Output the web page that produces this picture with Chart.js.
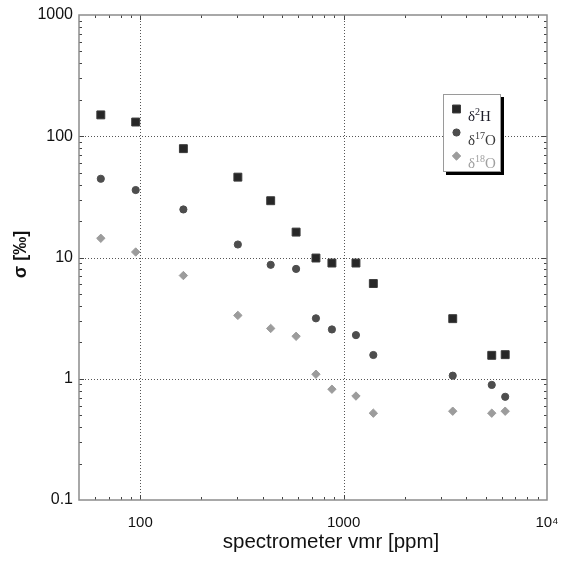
<!DOCTYPE html>
<html>
<head>
<meta charset="utf-8">
<script src="https://cdn.jsdelivr.net/npm/chart.js@4.4.1/dist/chart.umd.min.js"></script>
<style>
  html, body { margin: 0; padding: 0; background: #fff; }
</style>
</head>
<body>
<canvas id="sigmaChart" width="562" height="561"></canvas>
<script>
// spectrometer volume mixing ratio [ppm]
const vmr = [64, 95, 163, 302, 438, 584, 731, 876, 1150, 1400, 3440, 5350, 6230];
// precision sigma [permil] per isotopologue
const sigmaD2H  = [150, 131, 79, 46, 29.4, 16.2, 9.9, 9.0, 9.0, 6.1, 3.13, 1.56, 1.58];
const sigmaD17O = [44.6, 36, 24.9, 12.8, 8.7, 8.05, 3.15, 2.55, 2.29, 1.57, 1.06, 0.89, 0.71];
const sigmaD18O = [14.4, 11.1, 7.1, 3.33, 2.6, 2.24, 1.09, 0.82, 0.72, 0.52, 0.54, 0.52, 0.54];

const seriesNames = ['δ2H', 'δ17O', 'δ18O'];
// legend text split as [base, superscript, element]
const legendParts = [['δ', '2', 'H'], ['δ', '17', 'O'], ['δ', '18', 'O']];
const xTicks = [100, 1000, 10000];
const yTicks = [0.1, 1, 10, 100, 1000];

const toPoints = ys => vmr.map((v, i) => ({ x: v, y: ys[i] }));

// dotted grid, grey frame and inward minor ticks
const frame = {
  id: 'frame',
  beforeDatasetsDraw(chart) {
    const { ctx, chartArea: a, scales: { x, y } } = chart;
    ctx.save();
    ctx.strokeStyle = '#555';
    ctx.lineWidth = 1;
    ctx.setLineDash([1, 2]);
    xTicks.forEach(v => {
      const px = Math.round(x.getPixelForValue(v)) + 0.5;
      if (px <= a.left + 1 || px >= a.right - 1) return;
      ctx.beginPath(); ctx.moveTo(px, a.top); ctx.lineTo(px, a.bottom); ctx.stroke();
    });
    yTicks.forEach(v => {
      const py = Math.round(y.getPixelForValue(v)) + 0.5;
      if (py <= a.top + 1 || py >= a.bottom - 1) return;
      ctx.beginPath(); ctx.moveTo(a.left, py); ctx.lineTo(a.right, py); ctx.stroke();
    });
    ctx.setLineDash([]);

    // minor ticks
    ctx.strokeStyle = '#444';
    const minors = (scale) => {
      const out = [];
      const lo = Math.floor(Math.log10(scale.min)), hi = Math.ceil(Math.log10(scale.max));
      for (let n = lo; n <= hi; n++) {
        for (let k = 1; k <= 9; k++) {
          const v = k * Math.pow(10, n);
          if (v > scale.min * 1.001 && v < scale.max * 0.999) out.push({ v, major: k === 1 });
        }
      }
      return out;
    };
    minors(x).forEach(t => {
      const px = Math.round(x.getPixelForValue(t.v)) + 0.5;
      const len = t.major ? 5 : 3;
      ctx.beginPath();
      ctx.moveTo(px, a.bottom); ctx.lineTo(px, a.bottom - len);
      ctx.moveTo(px, a.top); ctx.lineTo(px, a.top + len);
      ctx.stroke();
    });
    minors(y).forEach(t => {
      const py = Math.round(y.getPixelForValue(t.v)) + 0.5;
      const len = t.major ? 5 : 3;
      ctx.beginPath();
      ctx.moveTo(a.left, py); ctx.lineTo(a.left + len, py);
      ctx.moveTo(a.right, py); ctx.lineTo(a.right - len, py);
      ctx.stroke();
    });

    ctx.strokeStyle = '#8c8c8c';
    ctx.lineWidth = 1.5;
    ctx.strokeRect(a.left, a.top, a.right - a.left, a.bottom - a.top);
    ctx.restore();
  },
  afterDraw(chart) {
    const { ctx, chartArea: a } = chart;
    ctx.save();

    // axis titles
    ctx.fillStyle = '#111';
    ctx.font = '20.5px "Liberation Sans", Arial, sans-serif';
    ctx.textAlign = 'center';
    ctx.textBaseline = 'alphabetic';
    ctx.fillText('spectrometer vmr [ppm]', 331, 548);

    ctx.translate(21, (a.top + a.bottom) / 2 - 3);
    ctx.rotate(-Math.PI / 2);
    ctx.font = 'bold 18px "Liberation Sans", Arial, sans-serif';
    ctx.textBaseline = 'middle';
    ctx.fillText('σ [‰]', 0, 0);
    ctx.setTransform(1, 0, 0, 1, 0, 0);

    // legend box with shadow
    const lx = 443, ly = 94, lw = 58, lh = 78;
    ctx.fillStyle = '#000';
    ctx.fillRect(lx + 3, ly + 3, lw, lh);
    ctx.fillStyle = '#fff';
    ctx.fillRect(lx, ly, lw, lh);
    ctx.strokeStyle = '#9a9a9a';
    ctx.lineWidth = 1;
    ctx.strokeRect(lx + 0.5, ly + 0.5, lw - 1, lh - 1);

    const textColors = ['#1c1c28', '#3a3a3a', '#a0a0a0'];
    chart.data.datasets.forEach((ds, i) => {
      const base = 121 + i * 23.5;
      ctx.fillStyle = ds.backgroundColor;
      ctx.strokeStyle = ds.borderColor;
      ctx.lineWidth = 1;
      Chart.helpers.drawPoint(ctx, {
        pointStyle: ds.pointStyle, radius: ds.pointRadius, borderWidth: 1, rotation: 0
      }, 456.5, base - 12);

      const [b, sup, el] = legendParts[i];
      let tx = 468;
      ctx.fillStyle = textColors[i];
      ctx.textAlign = 'left';
      ctx.textBaseline = 'alphabetic';
      ctx.font = '15px "Liberation Serif", "Times New Roman", serif';
      ctx.fillText(b, tx, base);
      tx += ctx.measureText(b).width;
      ctx.font = '10px "Liberation Serif", "Times New Roman", serif';
      ctx.fillText(sup, tx, base - 6);
      tx += ctx.measureText(sup).width;
      ctx.font = '15px "Liberation Serif", "Times New Roman", serif';
      ctx.fillText(el, tx, base);
    });
    ctx.restore();
  }
};

const tickFamily = '"Liberation Sans", Arial, sans-serif';

new Chart(document.getElementById('sigmaChart'), {
  type: 'scatter',
  data: {
    datasets: [
      { label: seriesNames[0], data: toPoints(sigmaD2H), pointStyle: 'rect', pointRadius: 5.6,
        backgroundColor: '#272727', borderColor: '#3a3a3a', borderWidth: 1 },
      { label: seriesNames[1], data: toPoints(sigmaD17O), pointStyle: 'circle', pointRadius: 3.6,
        backgroundColor: '#4d4d4d', borderColor: '#4d4d4d', borderWidth: 1 },
      { label: seriesNames[2], data: toPoints(sigmaD18O), pointStyle: 'rectRot', pointRadius: 4.2,
        backgroundColor: '#9c9c9c', borderColor: '#9c9c9c', borderWidth: 1 }
    ]
  },
  options: {
    responsive: false,
    animation: false,
    devicePixelRatio: 1,
    layout: { padding: { top: 15, right: 15, left: 0, bottom: 0 } },
    plugins: { legend: { display: false }, tooltip: { enabled: false } },
    scales: {
      x: {
        type: 'logarithmic', min: 50, max: 10000,
        grid: { display: false, drawTicks: false, tickLength: 0 }, border: { display: false },
        afterBuildTicks: s => { s.ticks = xTicks.map(v => ({ value: v, major: true })); },
        afterFit: s => { s.height = 61; s.paddingLeft = 0; s.paddingRight = 0; },
        ticks: {
          font: { family: tickFamily, size: 15 }, color: '#111', padding: 14, maxRotation: 0, autoSkip: false,
          callback: v => (v === 10000 ? '10⁴' : String(v))
        }
      },
      y: {
        type: 'logarithmic', min: 0.1, max: 1000,
        grid: { display: false, drawTicks: false, tickLength: 0 }, border: { display: false },
        afterBuildTicks: s => { s.ticks = yTicks.map(v => ({ value: v, major: true })); },
        afterFit: s => { s.width = 79; s.paddingTop = 0; s.paddingBottom = 0; },
        ticks: {
          font: { family: tickFamily, size: 16 }, color: '#111', padding: 6, autoSkip: false,
          callback: v => String(v)
        }
      }
    }
  },
  plugins: [frame]
});
</script>
</body>
</html>
